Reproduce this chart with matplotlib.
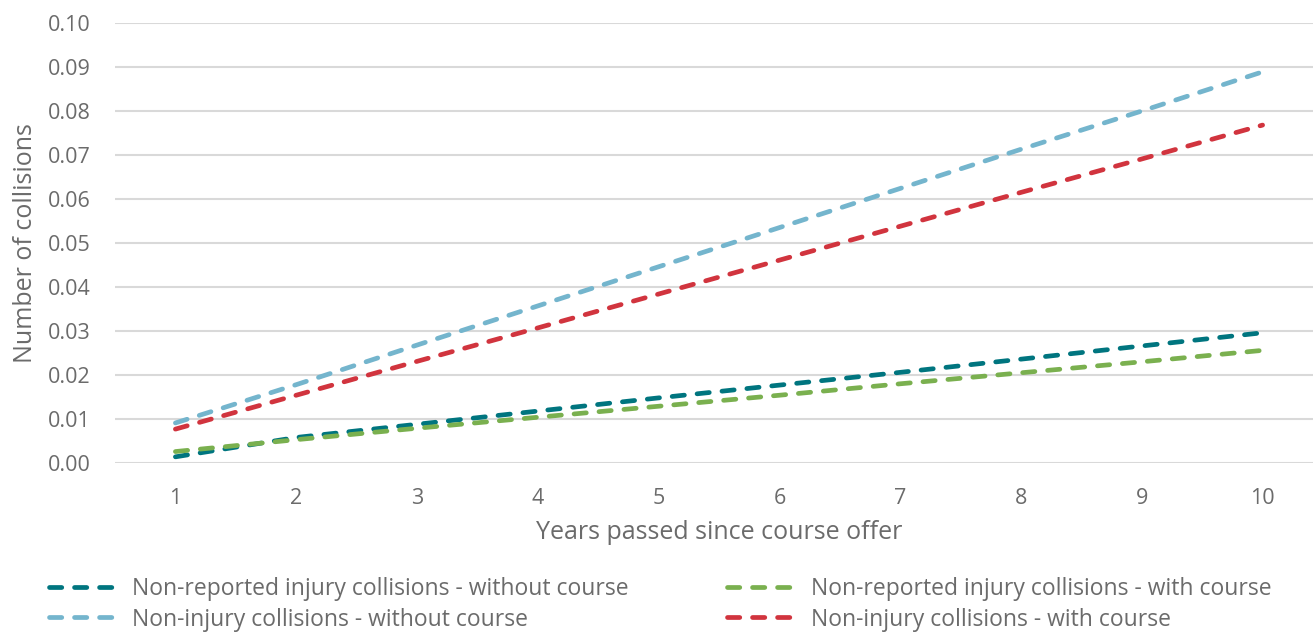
import matplotlib

matplotlib.use("Agg")
import matplotlib.pyplot as plt

years = [1, 2, 3, 4, 5, 6, 7, 8, 9, 10]
nonrep_without = [0.0014, 0.0058, 0.0088, 0.0118, 0.0148, 0.0177, 0.0206, 0.0236, 0.0266, 0.0296]
nonrep_with = [0.0026, 0.0053, 0.0079, 0.0104, 0.0129, 0.0154, 0.0180, 0.0205, 0.0230, 0.0256]
noninj_without = [0.0091, 0.0178, 0.0268, 0.0357, 0.0446, 0.0535, 0.0624, 0.0713, 0.0800, 0.0889]
noninj_with = [0.0077, 0.0154, 0.0231, 0.0307, 0.0384, 0.0461, 0.0538, 0.0615, 0.0691, 0.0768]

labels = [
    "Non-reported injury collisions - without course",
    "Non-injury collisions - without course",
    "Non-reported injury collisions - with course",
    "Non-injury collisions - with course",
]
colors = ["#00757F", "#74B5CD", "#7AB04F", "#D1343E"]
series = [nonrep_without, noninj_without, nonrep_with, noninj_with]

plt.rcParams["font.family"] = ["Open Sans", "DejaVu Sans"]
text_color = "#6b6b6b"
grid_color = "#d9d9d9"

fig = plt.figure(figsize=(13.13, 6.37), dpi=100)
ax = fig.add_axes([115 / 1313, 1 - 463 / 637, 1208 / 1313, 440 / 637])

# draw teal/green first, blue/red on top
order = [0, 2, 1, 3]
handles = {}
for i in order:
    (ln,) = ax.plot(
        years, series[i], color=colors[i], lw=3.4, linestyle=(0, (2.6, 2.7)),
        dash_capstyle="round", label=labels[i], clip_on=False,
    )
    handles[i] = ln

ax.set_xlim(0.5, 10.5)
ax.set_ylim(0, 0.10)
ax.set_yticks([i / 100 for i in range(11)])
ax.set_yticklabels([f"{i / 100:.2f}" for i in range(11)])
ax.set_xticks(years)
ax.tick_params(length=0, labelsize=15.5, colors=text_color)
ax.tick_params(axis="y", pad=17.5)
ax.tick_params(axis="x", pad=18)
for s in ax.spines.values():
    s.set_visible(False)
ax.grid(axis="y", color=grid_color, lw=1.5)
ax.set_axisbelow(True)

ax.set_xlabel("Years passed since course offer", fontsize=18, color=text_color, labelpad=8)
ax.set_ylabel("Number of collisions", fontsize=18, color=text_color)
ax.yaxis.set_label_coords(-0.064, 0.5)

fig.legend(
    [handles[i] for i in range(4)], labels, ncol=2, loc="upper left",
    bbox_to_anchor=(28 / 1313, 1 - 556 / 637), frameon=False,
    fontsize=16.5, labelcolor=text_color, handlelength=3.2,
    handletextpad=0.45, columnspacing=4.3, labelspacing=0.3,
)

fig.savefig("out.png", dpi=100)
